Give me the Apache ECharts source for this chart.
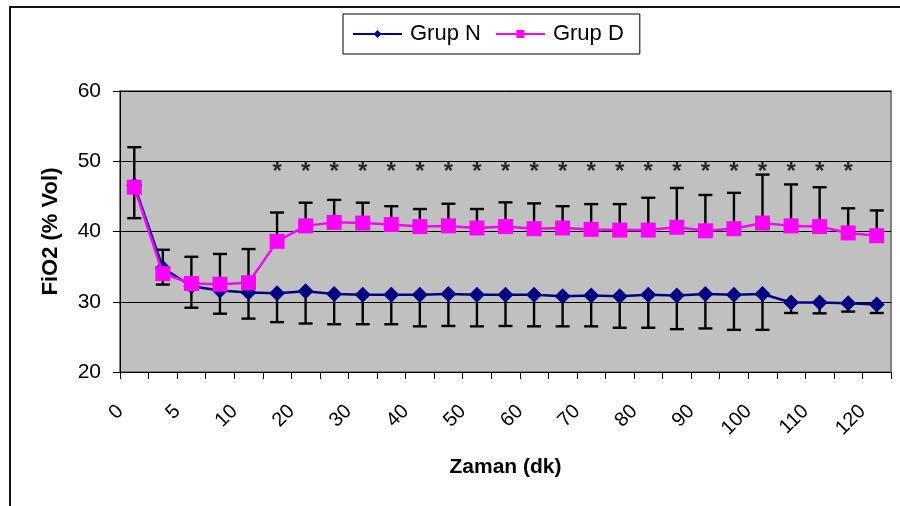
<!DOCTYPE html>
<html><head><meta charset="utf-8">
<script src="https://cdn.jsdelivr.net/npm/echarts@6/dist/echarts.min.js"></script>
<style>html,body{margin:0;padding:0;background:#fff}#c{width:900px;height:506px}</style>
</head><body><div id="c"></div>
<script>
const categories = ['0','2.5','5','7.5','10','15','20','25','30','35','40','45','50','55','60','65','70','75','80','85','90','95','100','105','110','115','120'];
const grupN = [46.6, 34.8, 32.2, 31.6, 31.3, 31.2, 31.5, 31.1, 31.0, 31.0, 31.0, 31.1, 31.0, 31.0, 31.0, 30.8, 30.9, 30.8, 31.0, 30.9, 31.1, 31.0, 31.1, 29.9, 29.9, 29.8, 29.6];
const sdN   = [4.7, 2.35, 3.05, 3.3, 3.7, 4.1, 4.6, 4.3, 4.2, 4.2, 4.5, 4.55, 4.5, 4.45, 4.5, 4.3, 4.4, 4.5, 4.7, 4.8, 4.9, 5.0, 5.1, 1.5, 1.55, 1.2, 1.2];
const grupD = [46.3, 34.0, 32.6, 32.5, 32.7, 38.6, 40.8, 41.3, 41.2, 41.0, 40.7, 40.8, 40.5, 40.7, 40.4, 40.5, 40.3, 40.2, 40.2, 40.6, 40.1, 40.4, 41.2, 40.8, 40.7, 39.8, 39.4];
const sdD   = [5.7, 3.4, 3.8, 4.3, 4.8, 4.1, 3.3, 3.2, 2.9, 2.6, 2.5, 3.15, 2.7, 3.45, 3.6, 3.1, 3.6, 3.7, 4.6, 5.6, 5.1, 5.1, 6.9, 5.9, 5.6, 3.5, 3.6];
const sigIdx = [5,6,7,8,9,10,11,12,13,14,15,16,17,18,19,20,21,22,23,24,25];
const sigLevel = 48.4;
const yMin = 20, yMax = 60, yStep = 10;

const FONT = 'Arial, "Liberation Sans", sans-serif';

function errRender(params, api) {
  const m = api.coord([api.value(0), api.value(1)]);
  const e = api.coord([api.value(0), api.value(2)]);
  const hw = 7;
  return {type: 'group', children: [
    {type: 'line', shape: {x1: m[0], y1: m[1], x2: e[0], y2: e[1]}, style: {stroke: '#000', lineWidth: 2.4}},
    {type: 'line', shape: {x1: e[0] - hw, y1: e[1], x2: e[0] + hw, y2: e[1]}, style: {stroke: '#000', lineWidth: 2.4}}
  ]};
}

const errN = grupN.map((v, i) => [i, v, +(v - sdN[i]).toFixed(2)]);
const errD = grupD.map((v, i) => [i, v, +(v + sdD[i]).toFixed(2)]);
const stars = sigIdx.map(i => [i, sigLevel]);

const chart = echarts.init(document.getElementById('c'));
chart.setOption({
  animation: false,
  backgroundColor: '#fff',
  textStyle: {fontFamily: FONT},
  graphic: [{type: 'rect', silent: true, z: -10,
    shape: {x: 10, y: 7, width: 1000, height: 1000},
    style: {fill: 'none', stroke: '#111', lineWidth: 2}}],
  legend: {
    left: 343, top: 14,
    data: ['Grup N', 'Grup D'],
    padding: [9, 12, 9, 9],
    itemWidth: 49, itemHeight: 10, itemGap: 10,
    borderColor: '#000', borderWidth: 1,
    textStyle: {fontSize: 22, color: '#000', fontFamily: FONT, padding: [0, 4, 0, 3], lineHeight: 22}
  },
  grid: {left: 120, right: 9, top: 91, bottom: 134, show: true,
    backgroundColor: '#C0C0C0', borderColor: '#808080', borderWidth: 2},
  xAxis: {
    type: 'category', data: categories,
    name: 'Zaman (dk)', nameLocation: 'middle', nameGap: 85,
    nameTextStyle: {fontSize: 21, fontWeight: 'bold', color: '#000', fontFamily: FONT},
    axisLine: {lineStyle: {color: '#000', width: 1}},
    axisTick: {show: true, interval: 0, length: 7, lineStyle: {color: '#000'}},
    axisLabel: {interval: 1, rotate: 45, margin: 22, fontSize: 20, color: '#000',
      fontFamily: FONT, padding: [0, 20, 0, 0]},
    splitLine: {show: false}
  },
  yAxis: {
    type: 'value', min: yMin, max: yMax, interval: yStep,
    name: 'FiO2 (% Vol)', nameLocation: 'middle', nameGap: 58, nameRotate: 90,
    nameTextStyle: {fontSize: 22, fontWeight: 'bold', color: '#000', fontFamily: FONT},
    axisLine: {show: true, lineStyle: {color: '#000', width: 1}},
    axisTick: {show: true, length: 7, lineStyle: {color: '#000'}},
    axisLabel: {margin: 19, fontSize: 21, color: '#000', fontFamily: FONT},
    splitLine: {show: true, lineStyle: {color: '#000', width: 1}}
  },
  series: [
    {type: 'custom', name: 'errN', renderItem: errRender, data: errN,
      encode: {x: 0, y: [1, 2]}, z: 1, silent: true},
    {type: 'custom', name: 'errD', renderItem: errRender, data: errD,
      encode: {x: 0, y: [1, 2]}, z: 1, silent: true},
    {type: 'line', name: 'Grup N', data: grupN, z: 3,
      symbol: 'diamond', symbolSize: [16, 16],
      lineStyle: {color: '#000080', width: 2.5},
      itemStyle: {color: '#000080'}},
    {type: 'line', name: 'Grup D', data: grupD, z: 4,
      symbol: 'rect', symbolSize: 15,
      lineStyle: {color: '#FF00FF', width: 2.5},
      itemStyle: {color: '#FF00FF'}},
    {type: 'scatter', name: 'sig', data: stars, z: 5, silent: true,
      symbolSize: 1, itemStyle: {color: 'rgba(0,0,0,0)'},
      label: {show: true, position: 'inside', formatter: '*', fontSize: 24, fontWeight: 'bold',
        color: '#000', fontFamily: FONT}}
  ]
});
</script>
</body></html>
